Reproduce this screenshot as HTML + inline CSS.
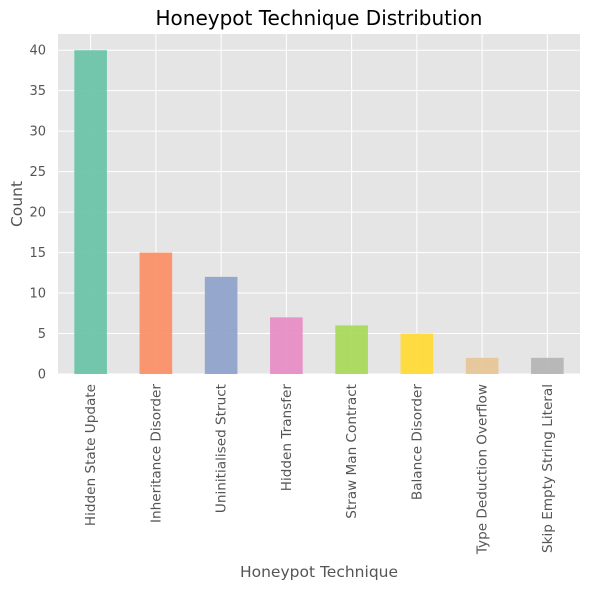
<!DOCTYPE html>
<html><head><meta charset="utf-8"><style>
body{margin:0;background:#fff;}
svg text{font-family:"DejaVu Sans","Liberation Sans",sans-serif;}
</style></head><body>
<svg id="chart" width="590" height="590" xmlns="http://www.w3.org/2000/svg">
<text x="319" y="25" text-anchor="middle" font-size="20" fill="#000">Honeypot Technique Distribution</text>
<rect x="58" y="34" width="522" height="340" fill="#e5e5e5"/>
<g id="grid"></g><g id="bars"></g><g id="xticks"></g><g id="yticks"></g>
<text x="319" y="577" text-anchor="middle" font-size="15.5" fill="#555">Honeypot Technique</text>
<text transform="translate(22,204) rotate(-90)" text-anchor="middle" font-size="15.5" fill="#555">Count</text>
</svg>
<script>
const categories=["Hidden State Update","Inheritance Disorder","Uninitialised Struct","Hidden Transfer","Straw Man Contract","Balance Disorder","Type Deduction Overflow","Skip Empty String Literal"];
const counts=[40,15,12,7,6,5,2,2];
const colors=["#66c2a5","#fc8d62","#8da0cb","#e78ac3","#a6d854","#ffd92f","#e5c494","#b3b3b3"];
const yTicks=[0,5,10,15,20,25,30,35,40];
const NS="http://www.w3.org/2000/svg";
const L=58,R=580,T=34,B=374,yMax=42;
const step=(R-L)/categories.length;
const xc=i=>L+step*(i+0.5);
const y=v=>B-(v/yMax)*(B-T);
function mk(t,a,p){const e=document.createElementNS(NS,t);for(const k in a)e.setAttribute(k,a[k]);document.getElementById(p).appendChild(e);return e;}
yTicks.forEach(v=>{
 const g=mk("line",{x1:L,x2:R,y1:y(v),y2:y(v),stroke:"#fff","stroke-width":1},"grid");
 
 
 const t=mk("text",{x:L-12,y:y(v)+4.5,"text-anchor":"end","font-size":"13",fill:"#555"},"yticks");
 t.textContent=v;
 
 
});
categories.forEach((c,i)=>{
 const g=mk("line",{x1:xc(i),x2:xc(i),y1:T,y2:B,stroke:"#fff","stroke-width":1},"grid");
 
 
 const b=mk("rect",{x:xc(i)-step/4,y:y(counts[i]),width:step/2,height:B-y(counts[i]),fill:colors[i],"fill-opacity":0.9},"bars");
 
 
 const t=mk("text",{transform:`translate(${xc(i)+4.5},384) rotate(-90)`,"text-anchor":"end","font-size":"13.6",fill:"#555"},"xticks");
 t.textContent=c;
 
 
});
</script>
</body></html>
